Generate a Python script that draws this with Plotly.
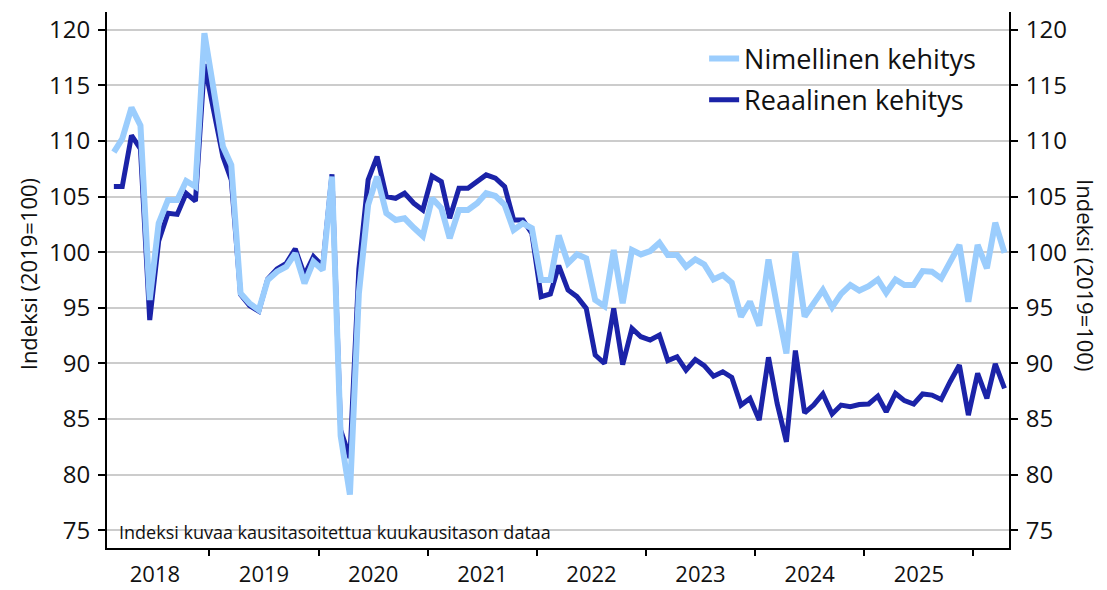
import pandas as pd
import plotly.graph_objects as go

# Monthly observations, Feb 2018 .. Apr 2026 (mid-month)
months = [d.strftime("%Y-%m-15") for d in pd.date_range("2018-02-01", "2026-04-01", freq="MS")]

nimellinen = [
    109.0, 110.2, 113.0, 111.4, 95.7, 102.6, 104.7, 104.7, 106.4, 105.9,
    119.7, 114.6, 109.5, 107.85, 96.3, 95.4, 94.8, 97.5, 98.25, 98.7,
    99.9, 97.2, 99.15, 98.4, 106.8, 83.5, 78.2, 96.3, 104.25, 106.8,
    103.5, 102.9, 103.05, 102.2, 101.45, 104.85, 103.95, 101.25, 103.8, 103.8,
    104.4, 105.3, 105.05, 104.25, 102.0, 102.6, 102.15, 97.5, 97.5, 101.5,
    99.0, 99.8, 99.45, 95.7, 95.15, 100.2, 95.4, 100.2, 99.8, 100.1,
    100.85, 99.75, 99.75, 98.7, 99.35, 98.9, 97.55, 97.95, 97.25, 94.2,
    95.55, 93.4, 99.35, 95.1, 90.9, 100.05, 94.2, 95.4, 96.6, 95.05,
    96.25, 97.05, 96.55, 96.95, 97.55, 96.35, 97.55, 97.05, 97.05, 98.3,
    98.25, 97.65, 99.15, 100.65, 95.55, 100.65, 98.55, 102.65, 99.95,
]

reaalinen = [
    105.9, 105.9, 110.5, 109.3, 93.9, 101.0, 103.5, 103.4, 105.3, 104.6,
    116.9, 112.7, 108.6, 106.5, 96.2, 95.2, 94.7, 97.6, 98.5, 99.0,
    100.3, 97.95, 99.6, 98.75, 107.0, 84.0, 81.5, 98.5, 106.5, 108.6,
    105.0, 104.85, 105.3, 104.4, 103.8, 106.85, 106.35, 103.05, 105.75, 105.75,
    106.35, 106.95, 106.65, 105.9, 102.9, 102.9, 101.7, 96.0, 96.25, 98.8,
    96.6, 96.0, 94.95, 90.75, 90.0, 94.95, 89.9, 93.15, 92.4, 92.1,
    92.55, 90.25, 90.6, 89.4, 90.35, 89.8, 88.85, 89.25, 88.75, 86.25,
    86.85, 84.9, 90.55, 86.4, 82.95, 91.15, 85.55, 86.25, 87.25, 85.45,
    86.25, 86.1, 86.3, 86.35, 87.05, 85.65, 87.3, 86.65, 86.35, 87.25,
    87.15, 86.75, 88.35, 89.85, 85.35, 89.1, 86.85, 89.95, 87.75,
]

y_ticks = [75, 80, 85, 90, 95, 100, 105, 110, 115, 120]
axis_title = "Indeksi (2019=100)"
note = "Indeksi kuvaa kausitasoitettua kuukausitason dataa"

LIGHT = "#9BCDFD"
DARK = "#1B23A8"
FONT = "Open Sans"
TXT = "#111111"

fig = go.Figure()
fig.add_trace(go.Scatter(
    x=months, y=reaalinen, name="Reaalinen kehitys", mode="lines",
    line=dict(color=DARK, width=5), legendrank=2, legendgroup="r",
))
fig.add_trace(go.Scatter(
    x=months, y=nimellinen, name="Nimellinen kehitys", mode="lines",
    line=dict(color=LIGHT, width=6), legendrank=1, legendgroup="n",
))
# invisible trace to activate the right axis
fig.add_trace(go.Scatter(
    x=[months[0]], y=[None], yaxis="y2", showlegend=False, hoverinfo="skip",
))

yr = [73.4, 121.6]
fig.update_layout(
    width=1107, height=590,
    margin=dict(l=107, r=98, t=12, b=42, autoexpand=False),
    paper_bgcolor="white", plot_bgcolor="white",
    font=dict(family=FONT, color=TXT),
    showlegend=True,
    legend=dict(
        x=0.662, y=0.958, xanchor="left", yanchor="top",
        font=dict(size=27, family=FONT, color=TXT),
        bgcolor="rgba(0,0,0,0)", itemwidth=30, tracegroupgap=3,
    ),
    xaxis=dict(
        type="date", range=["2018-01-23", "2026-04-30"], automargin=False,
        tick0="2018-01-01", dtick="M12", tickformat="%Y",
        ticklabelmode="period",
        ticks="outside", ticklen=6, tickwidth=1.5, tickcolor="black",
        showline=True, linecolor="black", linewidth=2,
        showgrid=False, zeroline=False,
        tickfont=dict(size=22, family=FONT, color=TXT),
    ),
    yaxis=dict(
        range=yr, tickvals=y_ticks, automargin=False,
        ticks="outside", ticklen=7, tickwidth=1.5, tickcolor="black",
        showline=True, linecolor="black", linewidth=2,
        showgrid=True, gridcolor="#CCCCCC", gridwidth=1.5, zeroline=False,
        tickfont=dict(size=24, family=FONT, color=TXT),
        ticklabelstandoff=3,
    ),
    yaxis2=dict(
        range=yr, tickvals=y_ticks, overlaying="y", side="right", automargin=False,
        ticks="outside", ticklen=7, tickwidth=1.5, tickcolor="black",
        showline=True, linecolor="black", linewidth=2,
        showgrid=False, zeroline=False,
        tickfont=dict(size=24, family=FONT, color=TXT),
        ticklabelstandoff=3,
    ),
    annotations=[
        dict(text=axis_title, xref="paper", yref="paper", x=-0.088, y=0.51,
             textangle=-90, showarrow=False, xanchor="center", yanchor="middle",
             font=dict(size=22, family=FONT, color=TXT)),
        dict(text=axis_title, xref="paper", yref="paper", x=1.086, y=0.51,
             textangle=90, showarrow=False, xanchor="center", yanchor="middle",
             font=dict(size=22, family=FONT, color=TXT)),
        dict(text=note, xref="paper", yref="paper", x=0.011, y=0.03,
             showarrow=False, xanchor="left", yanchor="middle",
             font=dict(size=18, family=FONT, color=TXT)),
    ],
)

# remove the default 8px page margin so the figure fills the window exactly
fig.write_html(
    "out.html",
    config={"displayModeBar": False},
    post_script="document.body.style.margin='0px';document.body.style.overflow='hidden';",
)
